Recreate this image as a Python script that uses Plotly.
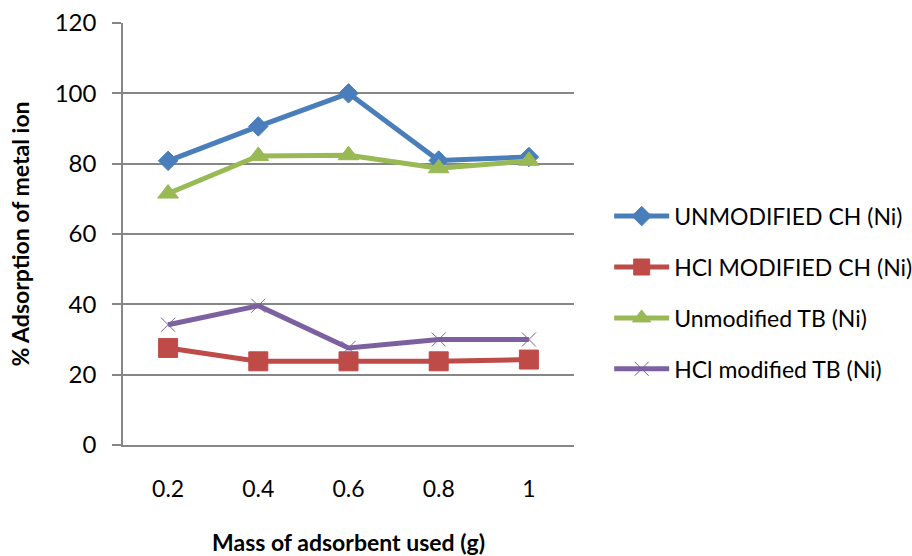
import plotly.graph_objects as go

masses = ["0.2", "0.4", "0.6", "0.8", "1"]
unmod_ch = [80.8, 90.6, 100.0, 80.9, 81.9]
hcl_ch = [27.6, 23.8, 23.8, 23.8, 24.3]
unmod_tb = [71.5, 82.2, 82.4, 78.7, 80.8]
hcl_tb = [34.2, 39.6, 27.6, 30.0, 30.0]
names = ["UNMODIFIED CH (Ni)", "HCl MODIFIED CH (Ni)", "Unmodified TB (Ni)", "HCl modified TB (Ni)"]
yticks = [0, 20, 40, 60, 80, 100, 120]

FONT = "Lato"
fig = go.Figure()
series = [
    (unmod_ch, "#4A7EBB", "diamond", 15, 1),
    (hcl_ch, "#BE4B48", "square", 19, 1),
    (unmod_tb, "#98B954", "triangle-up", 18, 1),
    (hcl_tb, "#7D60A0", "x-thin", 14, 1),
]
for i, (vals, col, sym, sz, lw) in enumerate(series):
    fig.add_trace(go.Scatter(
        x=masses, y=vals, name=names[i], mode="lines+markers",
        legendgroup=f"g{i}",
        line=dict(color=col, width=5),
        marker=dict(symbol=sym, size=sz, color=col, line=dict(color=col, width=lw)),
    ))

fig.update_layout(
    width=912, height=556,
    margin=dict(l=122.5, r=338, t=23, b=110.5, autoexpand=False),
    paper_bgcolor="white", plot_bgcolor="white",
    font=dict(family=FONT, size=23, color="#000000"),
    showlegend=True,
    legend=dict(x=1.078, xanchor="left", y=0.361, yanchor="middle",
                font=dict(family=FONT, size=23, color="#000000"),
                itemwidth=55, tracegroupgap=18, bgcolor="rgba(0,0,0,0)"),
    xaxis=dict(
        type="category", range=[-0.5, 4.5], automargin=False,
        showgrid=False, showline=True, linecolor="#868686", linewidth=1.5,
        ticks="", ticklabelstandoff=23,
        tickfont=dict(family=FONT, size=23),
        title=dict(text="<b>Mass of adsorbent used (g)</b>", standoff=43,
                   font=dict(family=FONT, size=23)),
    ),
    yaxis=dict(
        range=[0, 120], tickvals=yticks, ticktext=[str(v) for v in yticks],
        automargin=False,
        showgrid=True, gridcolor="#868686", gridwidth=1.5,
        showline=True, linecolor="#868686", linewidth=1.5,
        ticks="outside", ticklen=9, tickcolor="#868686", tickwidth=1.5,
        ticklabelstandoff=11, zeroline=False,
        tickfont=dict(family=FONT, size=24),
        title=dict(text="<b>% Adsorption of metal ion</b>", standoff=19,
                   font=dict(family=FONT, size=23)),
    ),
)
fig.write_html("out.html", config={"displayModeBar": False},
               post_script="document.body.style.margin='0px';")
